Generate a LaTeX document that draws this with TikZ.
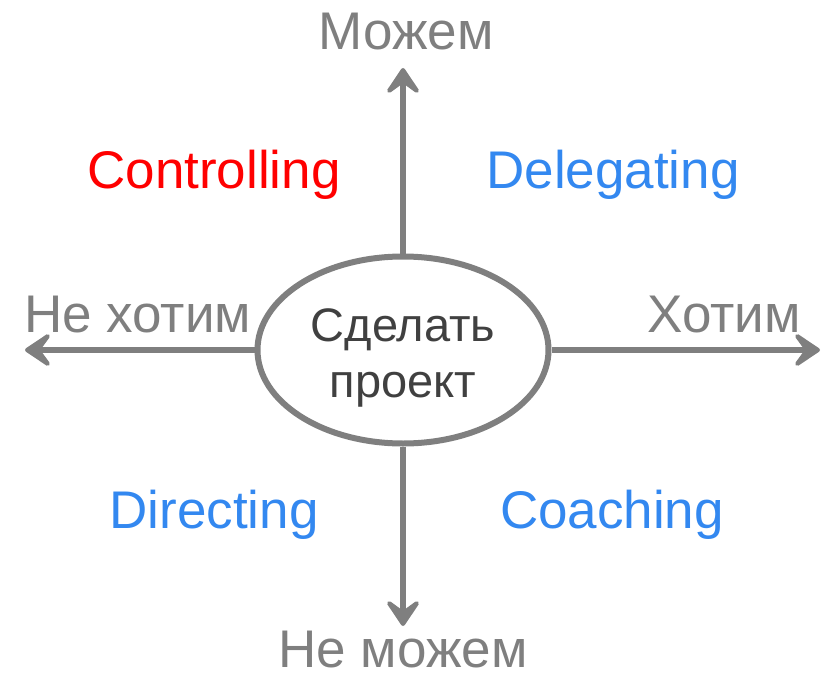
\documentclass[tikz,border=0pt]{standalone}
\usepackage{fontspec}
\setmainfont{Liberation Sans}
\usetikzlibrary{shapes.geometric,arrows.meta}
\definecolor{axisgray}{HTML}{7F7F7F}
\definecolor{textgray}{HTML}{404040}
\definecolor{stylered}{HTML}{FF0000}
\definecolor{styleblue}{HTML}{3388F0}
\tikzset{
  axis/.style={draw=axisgray,line width=6pt,
    -{Stealth[round,length=33pt,width=44pt,inset=16pt]}},
  axislabel/.style={text=axisgray,inner sep=0pt,anchor=base,font=\fontsize{53}{60}\selectfont},
  stylelabel/.style={inner sep=0pt,anchor=base,font=\fontsize{53}{60}\selectfont},
}

\begin{document}
\begin{tikzpicture}[x=1pt,y=-1pt]
  \useasboundingbox (0,0) rectangle (822,677);
  % the task in the middle
  \node[ellipse,draw=axisgray,line width=6pt,minimum width=291pt,minimum height=187pt,
        inner sep=0pt] (task) at (403,350) {};
  \node[text=textgray,align=center,inner sep=0pt,font=\fontsize{47}{56}\selectfont]
        (tasktext) at (403,358) {Сделать\\проект};
  % axes ends
  \coordinate (up) at (403,68);
  \coordinate (down) at (403,626);
  \coordinate (left) at (25,350);
  \coordinate (right) at (820,350);
  \draw[axis] (task.north) -- (up);
  \draw[axis] (task.south) -- (down);
  \draw[axis] (task.west) -- (left);
  \draw[axis] (task.east) -- (right);
  % axis labels
  \node[axislabel] (can) at (406,50) {Можем};
  \node[axislabel] (cannot) at (403,667) {Не можем};
  \node[axislabel,anchor=base west] (wantnot) at (24,332) {Не хотим};
  \node[axislabel,anchor=base east] (want) at (801,332) {Хотим};
  % quadrants
  \node[stylelabel,text=stylered] (controlling) at (214,188) {Controlling};
  \node[stylelabel,text=styleblue] (delegating) at (613,188) {Delegating};
  \node[stylelabel,text=styleblue] (directing) at (214,528) {Directing};
  \node[stylelabel,text=styleblue] (coaching) at (612,528) {Coaching};
\end{tikzpicture}
\end{document}
